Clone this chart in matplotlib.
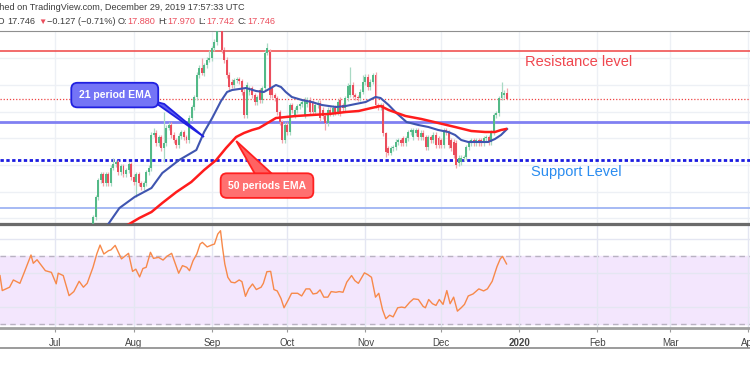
import datetime as dt

import matplotlib
matplotlib.use("Agg")
import matplotlib.pyplot as plt
import matplotlib.dates as mdates
from matplotlib.lines import Line2D
from matplotlib.patches import Polygon
import numpy as np

plt.rcParams['font.family'] = ['Liberation Sans', 'DejaVu Sans']

START = dt.datetime(2019, 6, 9)      # left edge of the visible window
VIEW_DAYS = 297.6
FIRST_CANDLE_DAY = 37                # 2019-07-16, first candle inside the price pane

# daily candles, one per day starting at FIRST_CANDLE_DAY
opens = [
    15.21, 15.39, 15.79, 16.13, 16.25, 16.07, 16.25, 16.07, 16.37, 16.45,
    16.49, 16.29, 16.41, 16.25, 16.33, 16.45, 16.19, 16.09, 16.25, 16.07,
    15.99, 16.07, 16.29, 16.37, 17.03, 17.07, 16.87, 16.99, 16.77, 16.87,
    17.17, 17.23, 17.03, 16.93, 16.83, 17.01, 17.09, 16.99, 16.93, 17.37,
    17.59, 17.79, 18.23, 18.37, 18.27, 18.43, 18.53, 18.57, 18.77, 18.89,
    19.29, 19.25, 18.73, 18.53, 18.23, 18.09, 18.03, 18.13, 18.15, 18.11,
    17.89, 17.43, 17.89, 17.97, 17.83, 17.69, 17.93, 17.73, 17.97, 18.67,
    18.69, 17.97, 17.83, 17.77, 17.49, 17.29, 16.93, 17.23, 17.09, 17.63,
    17.43, 17.53, 17.61, 17.65, 17.43, 17.65, 17.73, 17.67, 17.49, 17.63,
    17.67, 17.53, 17.41, 17.27, 17.53, 17.47, 17.57, 17.49, 17.73, 17.63,
    17.57, 17.77, 17.83, 18.03, 17.83, 17.79, 17.77, 17.89, 18.09, 18.19,
    17.99, 18.09, 18.23, 17.63, 17.59, 17.63, 17.07, 16.77, 16.67, 16.77,
    16.79, 16.89, 16.93, 16.97, 16.87, 16.97, 17.09, 16.99, 17.07, 17.13,
    16.99, 17.07, 16.99, 16.79, 16.99, 16.93, 17.03, 16.97, 16.93, 16.83,
    17.13, 17.09, 16.93, 16.89, 16.87, 16.47, 16.49, 16.57, 16.59, 16.79,
    16.87, 16.93, 16.87, 16.93, 16.93, 16.87, 16.97, 16.99, 16.89, 17.09,
    17.43, 17.47, 17.77, 17.83, 17.88,
]
closes = [
    15.39, 15.79, 16.13, 16.25, 16.07, 16.25, 16.07, 16.37, 16.45, 16.49,
    16.29, 16.41, 16.25, 16.33, 16.45, 16.19, 16.09, 16.25, 16.07, 15.99,
    16.07, 16.29, 16.37, 17.03, 17.07, 16.87, 16.99, 16.77, 16.87, 17.17,
    17.23, 17.03, 16.93, 16.83, 17.01, 17.09, 16.99, 16.93, 17.37, 17.59,
    17.79, 18.23, 18.37, 18.27, 18.43, 18.53, 18.57, 18.77, 18.89, 19.29,
    19.25, 18.73, 18.53, 18.23, 17.99, 18.03, 18.13, 18.15, 18.11, 17.89,
    17.43, 18.03, 17.97, 17.83, 17.69, 17.79, 17.73, 17.97, 18.67, 18.77,
    17.83, 17.83, 17.77, 17.49, 17.29, 16.93, 17.23, 17.09, 17.63, 17.53,
    17.53, 17.61, 17.65, 17.69, 17.73, 17.73, 17.49, 17.49, 17.63, 17.67,
    17.37, 17.41, 17.27, 17.53, 17.47, 17.57, 17.49, 17.69, 17.47, 17.57,
    17.77, 18.01, 18.03, 17.83, 17.79, 17.77, 17.89, 18.09, 18.19, 17.99,
    18.09, 18.23, 17.63, 17.59, 17.63, 17.07, 16.69, 16.67, 16.77, 16.79,
    16.89, 16.93, 16.87, 16.87, 16.97, 17.09, 17.13, 17.13, 17.13, 16.99,
    17.07, 16.99, 16.79, 16.99, 16.93, 17.03, 16.83, 16.83, 16.83, 17.13,
    17.09, 16.83, 16.77, 16.63, 16.43, 16.57, 16.57, 16.59, 16.79, 16.87,
    16.93, 16.87, 16.93, 16.87, 16.87, 16.97, 16.99, 16.89, 17.09, 17.43,
    17.47, 17.77, 17.89, 17.88, 17.746,
]
# candles with long shadows: (day, high, low)
long_wicks = [
    (45, 16.57, 16.33), (54, 16.29, 15.79), (61, 17.17, 16.99), (65, 17.49, 16.49),
    (80, 18.57, 18.23), (83, 18.73, 18.49), (106, 18.87, 18.63), (129, 17.45, 17.13),
    (139, 18.39, 17.79), (144, 18.23, 17.85), (148, 18.27, 18.05), (153, 17.09, 16.59),
    (199, 18.09, 17.73), (201, 17.97, 17.742),
]

ema21_days = [39.5, 42.7, 47.4, 53.4, 60.1, 64.4, 71.1, 77.9, 81.0, 84.2, 87.7, 90.1,
              92.1, 94.9, 97.6, 101.6, 104.7, 107.5, 109.5, 111.5, 113.4, 115.8, 119.8,
              123.7, 127.7, 133.2, 137.2, 141.1, 145.1, 149.0, 151.0, 154.2, 157.3,
              161.3, 166.0, 170.0, 173.9, 177.9, 180.6, 183.0, 185.8, 189.7, 193.7,
              196.4, 198.8, 201.2]
ema21_values = [14.93, 15.23, 15.57, 15.79, 15.97, 16.27, 16.53, 16.73, 17.09, 17.37,
                17.71, 17.89, 17.93, 17.95, 17.97, 17.91, 17.89, 17.97, 18.03, 17.99,
                17.89, 17.79, 17.73, 17.69, 17.63, 17.59, 17.61, 17.65, 17.69, 17.79,
                17.77, 17.63, 17.47, 17.29, 17.23, 17.19, 17.13, 17.09, 17.03, 16.93,
                16.89, 16.89, 16.89, 16.95, 17.03, 17.15]
ema50_days = [47.4, 50.6, 55.3, 60.1, 64.4, 70.0, 75.9, 81.0, 85.8, 89.7, 93.7, 96.8,
              100.0, 102.8, 105.5, 109.5, 113.4, 117.4, 123.7, 130.4, 137.2, 142.3,
              147.4, 151.0, 154.2, 160.9, 167.2, 173.9, 180.6, 187.0, 192.5, 196.4,
              198.8, 200.8]
ema50_values = [15.09, 15.23, 15.37, 15.49, 15.67, 15.89, 16.09, 16.33, 16.53, 16.77,
                16.99, 17.07, 17.13, 17.17, 17.25, 17.37, 17.39, 17.41, 17.43, 17.45,
                17.49, 17.51, 17.57, 17.61, 17.53, 17.41, 17.35, 17.27, 17.19, 17.11,
                17.09, 17.09, 17.13, 17.15]

rsi_days = [0.0, 0.9, 3.8, 5.3, 7.9, 9.5, 12.3, 13.2, 14.7, 18.0, 20.4, 22.3, 23.1, 25.1,
            27.4, 29.3, 31.4, 33.1, 34.6, 36.9, 38.4, 39.7, 41.2, 43.1, 44.0, 45.7, 48.2,
            51.0, 52.6, 53.9, 55.4, 56.7, 58.0, 59.7, 60.9, 62.9, 64.7, 66.2, 68.1, 70.9,
            72.4, 74.1, 75.2, 76.6, 78.1, 79.4, 80.3, 82.2, 84.1, 85.1, 86.4, 87.5, 88.3,
            89.2, 90.4, 91.7, 93.2, 94.9, 96.0, 97.4, 98.7, 100.2, 101.7, 103.6, 104.5,
            105.9, 107.4, 108.7, 110.0, 111.5, 112.7, 114.4, 115.7, 118.1, 119.7, 121.4,
            122.9, 124.2, 125.7, 127.0, 128.5, 130.1, 131.4, 133.3, 134.6, 136.1, 137.6,
            139.5, 140.8, 142.2, 144.6, 145.9, 147.4, 149.0, 150.3, 151.8, 153.1, 154.6,
            156.0, 157.8, 159.4, 160.7, 162.6, 164.1, 166.0, 167.9, 168.8, 170.1, 171.6,
            173.0, 174.3, 175.8, 177.3, 178.6, 180.0, 181.5, 183.0, 184.3, 185.8, 187.7,
            190.0, 191.9, 193.4, 195.3, 197.2, 198.5, 199.4, 201.0]
rsi_values = [58.6, 49.7, 51.7, 56.0, 54.0, 60.0, 70.8, 65.9, 68.0, 61.5, 60.5, 53.7, 60.0,
              58.6, 46.7, 49.1, 55.2, 51.7, 54.0, 63.5, 71.4, 76.7, 71.4, 73.4, 73.8, 76.5,
              68.5, 71.8, 61.1, 62.4, 57.8, 62.8, 63.5, 72.4, 68.8, 69.4, 67.8, 70.0, 71.8,
              60.0, 64.5, 63.5, 61.5, 67.4, 71.4, 77.3, 78.3, 75.6, 76.8, 77.3, 83.2, 85.2,
              75.2, 65.5, 57.6, 54.7, 54.3, 56.0, 55.0, 46.3, 50.7, 53.6, 50.3, 51.7, 54.0,
              60.9, 61.1, 50.3, 49.5, 45.0, 39.5, 44.2, 48.1, 48.1, 46.5, 50.7, 50.7, 47.7,
              48.1, 50.1, 45.8, 45.8, 49.1, 48.7, 49.1, 48.7, 54.7, 58.6, 55.6, 54.0, 60.2,
              59.2, 57.6, 45.8, 48.1, 38.3, 33.0, 35.1, 34.1, 39.5, 39.9, 39.5, 42.8, 44.8,
              44.4, 40.3, 39.5, 44.4, 41.9, 40.9, 44.4, 41.5, 49.7, 41.9, 45.8, 37.5, 39.5,
              41.5, 46.5, 47.7, 50.7, 49.5, 50.7, 55.2, 63.9, 68.5, 70.0, 65.5]

month_starts = [dt.datetime(2019, m, 1) for m in range(7, 13)] + \
               [dt.datetime(2020, m, 1) for m in range(1, 5)]
month_labels = ["Jul", "Aug", "Sep", "Oct", "Nov", "Dec", "2020", "Feb", "Mar", "Apr"]

resistance = 18.71
last_price = 17.746
mid_level = 17.29
support = 16.53
lower_level = 15.57
price_grid = [15.37, 15.90, 16.43, 16.97, 17.50, 18.03, 18.57]
rsi_grid = [40, 60, 80]

UP, DOWN = "#53b987", "#eb4d5c"
UP_WICK, DOWN_WICK = "#a9d9c4", "#f4a3ab"
GRID = "#edf0f5"
INK = "#3c3c3c"


def main():
    fig = plt.figure(figsize=(7.5, 3.75), dpi=100)
    ax = fig.add_axes([0, 1 - 224 / 375, 1, 193 / 375])
    rsi_ax = fig.add_axes([0, 1 - 328 / 375, 1, 103 / 375], sharex=ax)

    x0 = mdates.date2num(START)
    month_x = mdates.date2num(month_starts)

    # price pane
    ax.set_xlim(x0, x0 + VIEW_DAYS)
    ax.set_ylim(15.25, 19.11)
    ax.set_yticks(price_grid)
    ax.set_xticks(month_x)
    ax.grid(True, color=GRID, lw=1)
    ax.tick_params(left=False, bottom=False, labelleft=False, labelbottom=False)
    for s in ("left", "right"):
        ax.spines[s].set_visible(False)
    ax.spines["top"].set_color("#8f8f8f")
    ax.spines["bottom"].set_color("#6b6b6b")
    ax.spines["bottom"].set_linewidth(1.6)

    ax.axhline(resistance, color="#ef4444", lw=1.1, zorder=2)
    ax.axhline(last_price, color="#ef4444", lw=0.9, ls=(0, (1, 1.5)), zorder=2)
    ax.axhline(mid_level, color="#8080f2", lw=2, zorder=2)
    ax.axhline(support, color="#1a1ae0", lw=2, ls=(0, (1.2, 0.9)), zorder=2)
    ax.axhline(lower_level, color="#9fb4f3", lw=1.3, zorder=2)

    o = np.array(opens)
    c = np.array(closes)
    cx = x0 + FIRST_CANDLE_DAY + np.arange(len(c))
    up = c >= o
    hi = np.maximum(o, c) + 0.05
    lo = np.minimum(o, c) - 0.05
    for d, h, l in long_wicks:
        hi[d - FIRST_CANDLE_DAY] = h
        lo[d - FIRST_CANDLE_DAY] = l
    ax.vlines(cx, lo, hi, colors=np.where(up, UP_WICK, DOWN_WICK), lw=0.9, zorder=3)
    ax.bar(cx, np.maximum(np.abs(c - o), 0.02), bottom=np.minimum(o, c), width=0.78,
           color=np.where(up, UP, DOWN), zorder=4)

    ax.plot(x0 + np.array(ema21_days), ema21_values, color="#3f55b0", lw=1.5, zorder=5)
    ax.plot(x0 + np.array(ema50_days), ema50_values, color="#ff1c1c", lw=1.8, zorder=5)

    # callouts
    ax.add_patch(Polygon([(0.204, 0.637), (0.219, 0.622), (0.272, 0.451)], closed=True,
                         transform=ax.transAxes, fc="#5f5ff2", ec="#2020e0", lw=1.3, zorder=6))
    ax.text(0.153, 0.668, "21 period EMA", transform=ax.transAxes, ha="center", va="center",
            color="white", fontsize=7.5, fontweight="bold", zorder=7,
            bbox=dict(boxstyle="round,pad=0.7,rounding_size=0.6", fc="#7474f6", ec="#2020e0", lw=1.3))
    ax.add_patch(Polygon([(0.315, 0.430), (0.340, 0.259), (0.363, 0.259)], closed=True,
                         transform=ax.transAxes, fc="#ff6262", ec="#ff2020", lw=1.3, zorder=6))
    ax.text(0.356, 0.199, "50 periods EMA", transform=ax.transAxes, ha="center", va="center",
            color="white", fontsize=7.5, fontweight="bold", zorder=7,
            bbox=dict(boxstyle="round,pad=0.7,rounding_size=0.6", fc="#ff7070", ec="#ff2020", lw=1.3))

    ax.text(0.772, 0.839, "Resistance level", transform=ax.transAxes, ha="center", va="center",
            color="#f0474f", fontsize=10.5)
    ax.text(0.769, 0.269, "Support Level", transform=ax.transAxes, ha="center", va="center",
            color="#2a8cf0", fontsize=10.5)

    # RSI pane
    rsi_ax.set_ylim(27.5, 88.6)
    rsi_ax.axhspan(30, 70, color="#f3e6fd", zorder=0)
    rsi_ax.axhline(70, color="#b9b2c2", lw=1, ls=(0, (4, 3)), zorder=1)
    rsi_ax.axhline(30, color="#b9b2c2", lw=1, ls=(0, (4, 3)), zorder=1)
    rsi_ax.set_yticks(rsi_grid)
    rsi_ax.grid(True, color="#e4e6f2", lw=1)
    rsi_ax.plot(x0 + np.array(rsi_days), rsi_values, color="#f7894a", lw=1, zorder=3)
    rsi_ax.set_xticks(month_x)
    rsi_ax.set_xticklabels(month_labels)
    for lbl in rsi_ax.get_xticklabels():
        if lbl.get_text() == "2020":
            lbl.set_fontweight("bold")
    rsi_ax.tick_params(left=False, labelleft=False, length=3, pad=4, color="#9a9a9a",
                       labelsize=7, labelcolor="#444444")
    for s in ("left", "right"):
        rsi_ax.spines[s].set_visible(False)
    rsi_ax.spines["top"].set_color("#6b6b6b")
    rsi_ax.spines["top"].set_linewidth(1.6)
    rsi_ax.spines["bottom"].set_color("#a0a0a0")
    rsi_ax.spines["bottom"].set_linewidth(2)

    fig.add_artist(Line2D([0, 1], [1 - 348 / 375] * 2, color="#8a8a8a", lw=1.2))

    # header (the screenshot is cropped on the left)
    fig.text(245 / 750, 1 - 7.5 / 375, "Published on TradingView.com, December 29, 2019 17:57:33 UTC",
             ha="right", va="center", fontsize=6.6, color=INK)
    y2 = 1 - 22 / 375
    fig.text(1 / 750, y2, "D", ha="center", va="center", fontsize=6.6, color=INK)
    fig.text(7 / 750, y2, "17.746", ha="left", va="center", fontsize=6.6, color=INK)
    fig.text(38 / 750, y2, "\u25bc", ha="left", va="center", fontsize=6.0, color=DOWN)
    fig.text(47 / 750, y2, "\u22120.127 (\u22120.71%)", ha="left", va="center", fontsize=6.6, color=INK)
    ohlc = [("O:", 127, "17.880"), ("H:", 167, "17.970"), ("L:", 206, "17.742"), ("C:", 247, "17.746")]
    for key, px, val in ohlc:
        fig.text(px / 750, y2, key, ha="right", va="center", fontsize=6.6, color=INK)
        fig.text(px / 750, y2, val, ha="left", va="center", fontsize=6.6, color=DOWN)

    fig.savefig("out.png", dpi=100)


if __name__ == "__main__":
    main()
